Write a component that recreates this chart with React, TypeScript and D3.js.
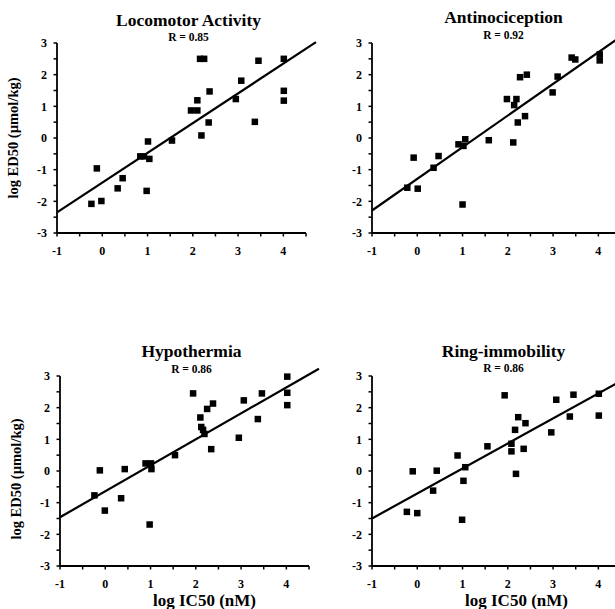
import React from "react";
import * as d3 from "d3";

// ---------- data ----------
const panelTitles = ["Locomotor Activity", "Antinociception", "Hypothermia", "Ring-immobility"];
const rLabels = ["R = 0.85", "R = 0.92", "R = 0.86", "R = 0.86"];
const xTickValues = [-1, 0, 1, 2, 3, 4];
const yTickValues = [3, 2, 1, 0, -1, -2, -3];
const xAxisTitle = "log IC50 (nM)";
const yAxisTitle = "log ED50 (\u00b5mol/kg)";

// [log IC50, log ED50]
const locomotor: [number, number][] = [
  [-0.24, -2.08], [-0.12, -0.96], [-0.02, -1.99], [0.34, -1.59], [0.45, -1.27],
  [0.84, -0.58], [0.92, -0.58], [1.01, -0.11], [1.04, -0.66], [0.98, -1.67],
  [1.54, -0.08], [1.96, 0.87], [2.1, 0.87], [2.1, 1.19], [2.16, 2.5], [2.25, 2.5],
  [2.19, 0.08], [2.35, 0.49], [2.37, 1.47], [2.95, 1.23], [3.07, 1.81], [3.37, 0.51],
  [3.45, 2.44], [4.01, 2.5], [4.01, 1.49], [4.01, 1.18],
];
const antinociception: [number, number][] = [
  [-0.22, -1.57], [-0.08, -0.62], [0.01, -1.6], [0.36, -0.94], [0.47, -0.57],
  [0.91, -0.2], [1.02, -0.25], [1.06, -0.04], [1.0, -2.1], [1.58, -0.07],
  [1.98, 1.23], [2.14, 1.04], [2.19, 1.23], [2.12, -0.14], [2.22, 0.49], [2.27, 1.92],
  [2.42, 2.0], [2.38, 0.69], [2.99, 1.44], [3.1, 1.94], [3.41, 2.54], [3.49, 2.48],
  [4.03, 2.64], [4.03, 2.45],
];
const hypothermia: [number, number][] = [
  [-0.24, -0.77], [-0.12, 0.02], [-0.01, -1.25], [0.35, -0.86], [0.43, 0.06],
  [0.89, 0.24], [1.01, 0.24], [1.02, 0.06], [0.98, -1.69], [1.54, 0.5],
  [1.94, 2.45], [2.1, 1.69], [2.12, 1.39], [2.16, 1.3], [2.19, 1.17], [2.25, 1.96],
  [2.38, 2.13], [2.34, 0.69], [2.95, 1.05], [3.06, 2.23], [3.37, 1.64], [3.46, 2.45],
  [4.02, 2.98], [4.02, 2.47], [4.02, 2.08],
];
const ringImmobility: [number, number][] = [
  [-0.23, -1.29], [-0.1, -0.01], [0.0, -1.33], [0.35, -0.62], [0.43, 0.01],
  [0.89, 0.49], [1.06, 0.12], [1.02, -0.31], [0.99, -1.54], [1.55, 0.78],
  [1.93, 2.39], [2.08, 0.86], [2.08, 0.62], [2.16, 1.3], [2.23, 1.7], [2.39, 1.51],
  [2.35, 0.7], [2.18, -0.09], [2.96, 1.22], [3.07, 2.25], [3.37, 1.72], [3.45, 2.41],
  [4.01, 2.44], [4.01, 1.75],
];
const panelData = [locomotor, antinociception, hypothermia, ringImmobility];
// regression line: [value at x=-1, slope]
const fitIntercepts = [-2.35, -2.29, -1.46, -1.5];
const fitSlopes = [0.94, 1.0, 0.82, 0.79];

// ---------- layout ----------
const W = 615;
const H = 609;
const plotW = 249;
const plotH = 190;
const panels = [
  { left: 57, top: 43, titleDy: -17, rDy: -2, yLabel: true, xLabel: false },
  { left: 372, top: 43, titleDy: -20, rDy: -4.5, yLabel: false, xLabel: false },
  { left: 60, top: 376, titleDy: -19, rDy: -3, yLabel: true, xLabel: true },
  { left: 372, top: 376, titleDy: -19.5, rDy: -4, yLabel: false, xLabel: true },
];
const FONT = "'Liberation Serif', 'Times New Roman', Times, serif";

function Panel({ idx }: { idx: number }) {
  const p = panels[idx];
  const x = d3.scaleLinear().domain([-1, 4.5]).range([0, plotW]);
  const y = d3.scaleLinear().domain([-3, 3]).range([plotH, 0]);
  const data = panelData[idx];
  const b = fitIntercepts[idx];
  const m = fitSlopes[idx];
  const xEnd = 4.72;
  const line = d3.line<number>().x((v) => x(v)).y((v) => y(b + m * (v + 1)));
  const minorX = d3.range(-1, 4.51, 0.5);
  const minorY = d3.range(-3, 3.01, 0.5);
  const sq = 6.5;
  const cx = x(1.75) + 7;
  return (
    <g transform={`translate(${p.left},${p.top})`} fontFamily={FONT} fontWeight="bold" fill="#000">
      <text x={cx} y={p.titleDy} textAnchor="middle" fontSize={17.5}>{panelTitles[idx]}</text>
      <text x={cx} y={p.rDy} textAnchor="middle" fontSize={11.5}>{rLabels[idx]}</text>
      {/* axes */}
      <line x1={0} x2={0} y1={0} y2={plotH} stroke="#000" strokeWidth={1.8} />
      <line x1={0} x2={plotW} y1={plotH} y2={plotH} stroke="#000" strokeWidth={1.8} />
      {minorY.map((v) => (
        <line key={"my" + v} x1={-3.5} x2={0} y1={y(v)} y2={y(v)} stroke="#000" strokeWidth={1.5} />
      ))}
      {minorX.map((v) => (
        <line key={"mx" + v} x1={x(v)} x2={x(v)} y1={plotH} y2={plotH + 3.5} stroke="#000" strokeWidth={1.5} />
      ))}
      {yTickValues.map((v) => (
        <text key={"yt" + v} x={-10} y={y(v) + 4.2} textAnchor="end" fontSize={12}>{String(v)}</text>
      ))}
      {xTickValues.map((v) => (
        <text key={"xt" + v} x={x(v)} y={plotH + 22} textAnchor="middle" fontSize={12}>{String(v)}</text>
      ))}
      {/* regression line */}
      <path d={line([-1, xEnd]) || ""} stroke="#000" strokeWidth={2.2} fill="none" />
      {/* points */}
      {data.map((d, i) => (
        <rect key={i} x={x(d[0]) - sq / 2} y={y(d[1]) - sq / 2} width={sq} height={sq} fill="#000" />
      ))}
      {p.yLabel && (
        <text
          transform={`translate(${-39},${plotH / 2 + (idx === 2 ? 8 : 0)}) rotate(-90)`}
          textAnchor="middle"
          fontSize={14.5}
        >
          {yAxisTitle}
        </text>
      )}
      {p.xLabel && (
        <text x={x(1.75) + 20} y={plotH + 40} textAnchor="middle" fontSize={17}>{xAxisTitle}</text>
      )}
    </g>
  );
}

export default function App() {
  return (
    <svg
      width={W}
      height={H}
      viewBox={`0 0 ${W} ${H}`}
      style={{ position: "absolute", left: 0, top: 0, background: "#fff" }}
    >
      <rect x={0} y={0} width={W} height={H} fill="#fff" />
      {panelTitles.map((_, i) => (
        <Panel key={i} idx={i} />
      ))}
    </svg>
  );
}
